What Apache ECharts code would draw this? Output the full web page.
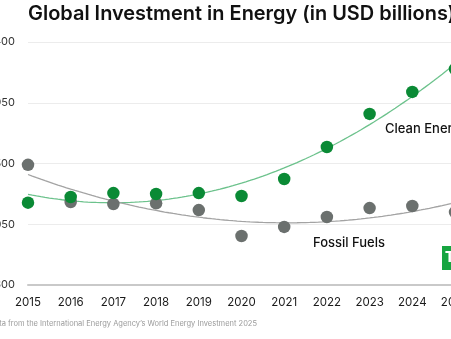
<!DOCTYPE html>
<html>
<head>
<meta charset="utf-8">
<script src="https://cdn.jsdelivr.net/npm/echarts@6/dist/echarts.min.js"></script>
<style>
  html, body { margin: 0; padding: 0; background: #ffffff; }
  #chart { width: 451px; height: 339px; }
</style>
</head>
<body>
<div id="chart"></div>
<script>
// Global energy investment, USD billions
const years = [2015, 2016, 2017, 2018, 2019, 2020, 2021, 2022, 2023, 2024, 2025];
const cleanEnergy = [1210, 1252, 1281, 1274, 1281, 1259, 1385, 1622, 1867, 2030, 2200];
const fossilFuels = [1490, 1215, 1200, 1205, 1155, 963, 1030, 1104, 1170, 1185, 1140];
const yTicks = [600, 1050, 1500, 1950, 2400];

// Least-squares quadratic trend through a series
function quadFit(xs, ys) {
  const n = xs.length;
  const x0 = xs.reduce((a, b) => a + b, 0) / n;
  let s1 = 0, s2 = 0, s3 = 0, s4 = 0, sy = 0, sxy = 0, sx2y = 0;
  for (let i = 0; i < n; i++) {
    const t = xs[i] - x0, y = ys[i];
    s1 += t; s2 += t * t; s3 += t * t * t; s4 += t * t * t * t;
    sy += y; sxy += t * y; sx2y += t * t * y;
  }
  // Solve the 3x3 normal equations with Cramer's rule
  const M = [[n, s1, s2], [s1, s2, s3], [s2, s3, s4]];
  const v = [sy, sxy, sx2y];
  const det = m => m[0][0] * (m[1][1] * m[2][2] - m[1][2] * m[2][1])
                 - m[0][1] * (m[1][0] * m[2][2] - m[1][2] * m[2][0])
                 + m[0][2] * (m[1][0] * m[2][1] - m[1][1] * m[2][0]);
  const D = det(M);
  const coef = [0, 1, 2].map(k => det(M.map((row, r) => row.map((c, j) => j === k ? v[r] : c))) / D);
  return x => { const t = x - x0; return coef[0] + coef[1] * t + coef[2] * t * t; };
}

function trendLine(ys) {
  const f = quadFit(years, ys);
  const pts = [];
  const start = years[0], end = years[years.length - 1];
  for (let x = start; x <= end + 1e-9; x += 0.1) pts.push([x, f(x)]);
  return pts;
}

const chart = echarts.init(document.getElementById('chart'), null, { renderer: 'canvas' });
const font = 'Inter, "Liberation Sans", sans-serif';

chart.setOption({
  animation: false,
  backgroundColor: '#ffffff',
  title: {
    text: 'Global Investment in Energy (in USD billions)',
    left: 28,
    top: 4,
    padding: 0,
    textStyle: { fontFamily: font, fontSize: 19.95, fontWeight: 600, color: '#111111' }
  },
  grid: { left: 28, right: -4, top: 42, bottom: 54, outerBoundsMode: 'none', containLabel: false },
  xAxis: {
    type: 'value',
    min: years[0],
    max: years[years.length - 1],
    interval: 1,
    axisLine: { show: true, lineStyle: { color: '#c9c9c9', width: 2 } },
    axisTick: { show: false },
    splitLine: { show: false },
    axisLabel: {
      margin: 12,
      color: '#1a1a1a',
      fontFamily: font,
      fontSize: 11.5,
      hideOverlap: false,
      showMaxLabel: true,
      formatter: v => String(v)
    }
  },
  yAxis: {
    type: 'value',
    min: yTicks[0],
    max: yTicks[yTicks.length - 1],
    interval: yTicks[1] - yTicks[0],
    axisLine: { show: false },
    axisTick: { show: false },
    splitLine: { lineStyle: { color: '#ececec', width: 1 } },
    axisLabel: {
      margin: 13,
      color: '#333333',
      fontFamily: font,
      fontSize: 11,
      formatter: v => String(v)
    }
  },
  series: [
    {
      name: 'Clean Energy trend',
      type: 'line',
      data: trendLine(cleanEnergy),
      showSymbol: false,
      lineStyle: { color: '#6cc28c', width: 1.3 },
      z: 2
    },
    {
      name: 'Fossil Fuels trend',
      type: 'line',
      data: trendLine(fossilFuels),
      showSymbol: false,
      lineStyle: { color: '#a3a3a3', width: 1.3 },
      z: 2
    },
    {
      name: 'Fossil Fuels',
      type: 'scatter',
      data: years.map((y, i) => [y, fossilFuels[i]]),
      symbolSize: 12.5,
      itemStyle: { color: '#6b706e', opacity: 1 },
      z: 3
    },
    {
      name: 'Clean Energy',
      type: 'scatter',
      data: years.map((y, i) => [y, cleanEnergy[i]]),
      symbolSize: 12.5,
      itemStyle: { color: '#0a8a35', opacity: 1 },
      z: 4
    }
  ],
  graphic: [
    {
      type: 'text', left: 385, top: 123,
      style: { text: 'Clean Energy', fontFamily: font, fontSize: 13, fontWeight: 500, fill: '#111111' }
    },
    {
      type: 'text', left: 313, top: 237,
      style: { text: 'Fossil Fuels', fontFamily: font, fontSize: 13, fontWeight: 500, fill: '#111111' }
    },
    {
      type: 'group', left: 442, top: 246,
      children: [
        { type: 'rect', shape: { x: 0, y: 0, width: 22, height: 24 }, style: { fill: '#16a540' } },
        { type: 'text', x: 3, y: 5, style: { text: 'TI', fontFamily: font, fontSize: 14, fontWeight: 800, fill: '#ffffff' } }
      ]
    },
    {
      type: 'text', right: 194, top: 320,
      style: {
        text: 'Data from the International Energy Agency\u2019s World Energy Investment 2025',
        fontFamily: font, fontSize: 7.5, fill: '#9a9a9a', align: 'right'
      }
    }
  ]
});
</script>
</body>
</html>
